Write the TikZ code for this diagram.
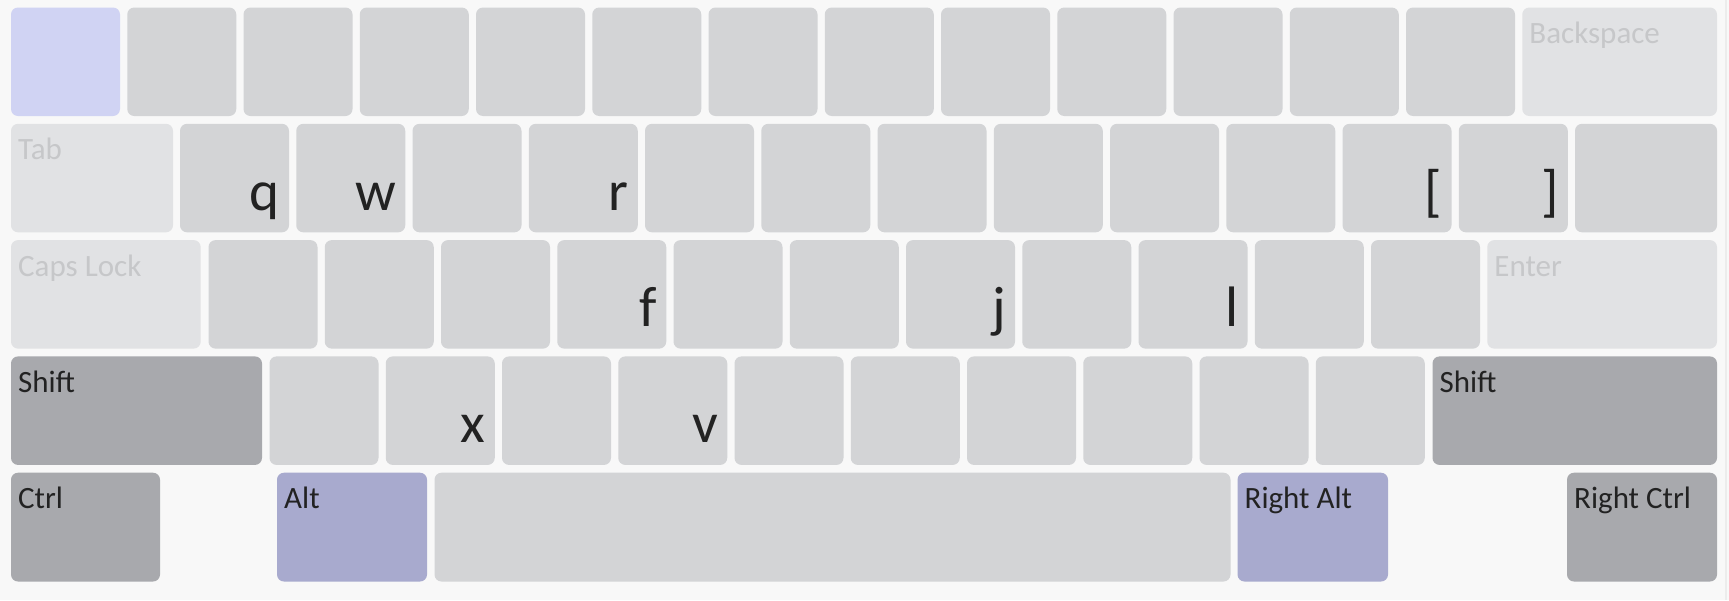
\documentclass[tikz,border=0pt]{standalone}
\usepackage{fontspec}
\setmainfont{Carlito}
\definecolor{bgc}{HTML}{F8F8F8}
\definecolor{keyc}{HTML}{D3D4D6}
\definecolor{lightc}{HTML}{E1E2E4}
\definecolor{lighttext}{HTML}{C6C7C9}
\definecolor{tildec}{HTML}{D0D3F3}
\definecolor{modc}{HTML}{A8A9AD}
\definecolor{altc}{HTML}{A8AACE}
\definecolor{textc}{HTML}{222222}
\definecolor{edgec}{HTML}{ECECEC}
\tikzset{
  keybase/.style={rectangle, rounded corners=7pt, draw=none, inner sep=0pt, outer sep=0pt, anchor=north west},
  normalkey/.style={keybase, fill=keyc},
  lightkey/.style={keybase, fill=lightc},
  tildekey/.style={keybase, fill=tildec},
  modkey/.style={keybase, fill=modc},
  altkey/.style={keybase, fill=altc},
  modlabel/.style={inner sep=0pt, anchor=base west, text=textc, font=\fontsize{31}{37}\selectfont},
  lightlabel/.style={modlabel, text=lighttext},
  letter/.style={inner sep=0pt, anchor=base east, text=textc, font=\fontsize{57}{66}\selectfont},
}
\newcommand\mkkey[6]{\node[#2, minimum width={#5pt-#3pt}, minimum height={#6pt-#4pt}] (#1) at (#3,#4) {};}
\newcommand\modtxt[3]{\node[#1] (#2-t) at ([shift={(7pt,-36pt)}]#2.north west) {#3};}
\newcommand\lettxt[2]{\node[letter] (#1-t) at ([shift={(-9pt,22pt)}]#1.south east) {#2};}
\begin{document}
\begin{tikzpicture}[x=1pt,y=-1pt]
\fill[bgc] (0,0) rectangle (1729,600);
\useasboundingbox (0,0) rectangle (1729,600);
\draw[edgec, line width=2pt] (1725.5,0) -- (1725.5,600);
% row 1
\mkkey{r1k0}{tildekey}{11}{7.5}{120}{116}
\foreach \i in {1,...,12}{
  \pgfmathsetmacro\xa{11+\i*116.25}
  \pgfmathsetmacro\xb{\xa+109}
  \mkkey{r1k\i}{normalkey}{\xa}{7.5}{\xb}{116}
}
\mkkey{bksp}{lightkey}{1522.25}{7.5}{1717}{116}
\modtxt{lightlabel}{bksp}{Backspace}
% row 2
\mkkey{tab}{lightkey}{11}{123.8}{173}{232.3}
\modtxt{lightlabel}{tab}{Tab}
\foreach \i in {0,...,11}{
  \pgfmathsetmacro\xa{180+\i*116.25}
  \pgfmathsetmacro\xb{\xa+109}
  \mkkey{r2k\i}{normalkey}{\xa}{123.8}{\xb}{232.3}
}
\mkkey{bsl}{normalkey}{1575}{123.8}{1717}{232.3}
\lettxt{r2k0}{q}
\lettxt{r2k1}{w}
\lettxt{r2k3}{r}
\lettxt{r2k10}{[}
\lettxt{r2k11}{]}
% row 3
\mkkey{caps}{lightkey}{11}{240.1}{200.7}{348.6}
\modtxt{lightlabel}{caps}{Caps Lock}
\foreach \i in {0,...,10}{
  \pgfmathsetmacro\xa{208.5+\i*116.25}
  \pgfmathsetmacro\xb{\xa+109}
  \mkkey{r3k\i}{normalkey}{\xa}{240.1}{\xb}{348.6}
}
\mkkey{enter}{lightkey}{1487.25}{240.1}{1717}{348.6}
\modtxt{lightlabel}{enter}{Enter}
\lettxt{r3k3}{f}
\lettxt{r3k6}{j}
\lettxt{r3k8}{l}
% row 4
\mkkey{lshift}{modkey}{11}{356.4}{262}{464.9}
\modtxt{modlabel}{lshift}{Shift}
\foreach \i in {0,...,9}{
  \pgfmathsetmacro\xa{269.5+\i*116.25}
  \pgfmathsetmacro\xb{\xa+109}
  \mkkey{r4k\i}{normalkey}{\xa}{356.4}{\xb}{464.9}
}
\mkkey{rshift}{modkey}{1432.5}{356.4}{1717}{464.9}
\modtxt{modlabel}{rshift}{Shift}
\lettxt{r4k1}{x}
\lettxt{r4k3}{v}
% row 5
\mkkey{lctrl}{modkey}{11}{472.7}{160}{581.5}
\modtxt{modlabel}{lctrl}{Ctrl}
\mkkey{lalt}{altkey}{277}{472.7}{427}{581.5}
\modtxt{modlabel}{lalt}{Alt}
\mkkey{space}{normalkey}{434.5}{472.7}{1230.5}{581.5}
\mkkey{ralt}{altkey}{1237.5}{472.7}{1388}{581.5}
\modtxt{modlabel}{ralt}{Right Alt}
\mkkey{rctrl}{modkey}{1567}{472.7}{1717}{581.5}
\modtxt{modlabel}{rctrl}{Right Ctrl}
\end{tikzpicture}
\end{document}
